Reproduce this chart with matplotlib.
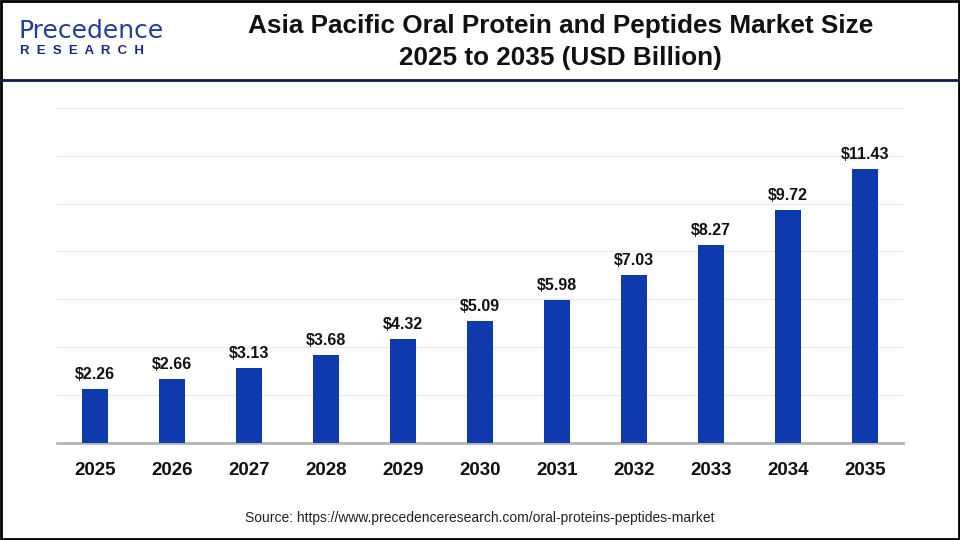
import matplotlib.pyplot as plt
import numpy as np

years = ['2025', '2026', '2027', '2028', '2029', '2030', '2031', '2032', '2033', '2034', '2035']
values = [2.26, 2.66, 3.13, 3.68, 4.32, 5.09, 5.98, 7.03, 8.27, 9.72, 11.43]

bar_color = '#0F3AAD'
navy = '#0d1a4a'

plt.rcParams['font.family'] = ['Liberation Sans', 'DejaVu Sans']

fig = plt.figure(figsize=(9.6, 5.4), dpi=100)
ax = fig.add_axes([0.059, 0.18, 0.882, 0.62])

x = np.arange(len(years))
ax.bar(x, values, width=0.34, color=bar_color, zorder=3)
for xi, v in zip(x, values):
    ax.text(xi, v + 0.3, '$%.2f' % v, ha='center', va='bottom',
            fontsize=11.5, fontweight='bold', color='#111111')

ax.set_xlim(-0.5, len(years) - 0.5)
ax.set_ylim(0, 14)
ax.set_yticks(np.arange(0, 15, 2))
ax.set_yticklabels([])
ax.tick_params(axis='y', length=0)
ax.tick_params(axis='x', length=0, pad=14)
ax.set_xticks(x)
ax.set_xticklabels(years, fontsize=13.5, fontweight='bold', color='#111111')
ax.grid(axis='y', color='#ebebeb', linewidth=1, zorder=0)
for s in ['top', 'right', 'left']:
    ax.spines[s].set_visible(False)
ax.spines['bottom'].set_color('#b5b5b5')
ax.spines['bottom'].set_linewidth(2)

# title
fig.text(0.584, 0.951, 'Asia Pacific Oral Protein and Peptides Market Size',
         ha='center', va='center', fontsize=18.8, fontweight='bold', color='#111111')
fig.text(0.584, 0.892, '2025 to 2035 (USD Billion)',
         ha='center', va='center', fontsize=18.8, fontweight='bold', color='#111111')

# logo
fig.text(0.019, 0.943, 'Precedence', ha='left', va='center', fontsize=18,
         color='#1f3f9f', family='DejaVu Sans')
fig.text(0.021, 0.905, 'R  E  S  E  A  R  C  H', ha='left', va='center',
         fontsize=9.5, fontweight='bold', color='#1a2a7a')

# header line
fig.add_artist(plt.Line2D([0, 1], [0.852, 0.852], color=navy, linewidth=2,
                          transform=fig.transFigure))
# border
fig.add_artist(plt.Rectangle((0.001, 0.002), 0.998, 0.996, fill=False,
                             edgecolor='black', linewidth=2, transform=fig.transFigure))

fig.text(0.5, 0.04, 'Source: https://www.precedenceresearch.com/oral-proteins-peptides-market',
         ha='center', va='center', fontsize=10, color='#222222')

fig.savefig('out.png', dpi=100)
